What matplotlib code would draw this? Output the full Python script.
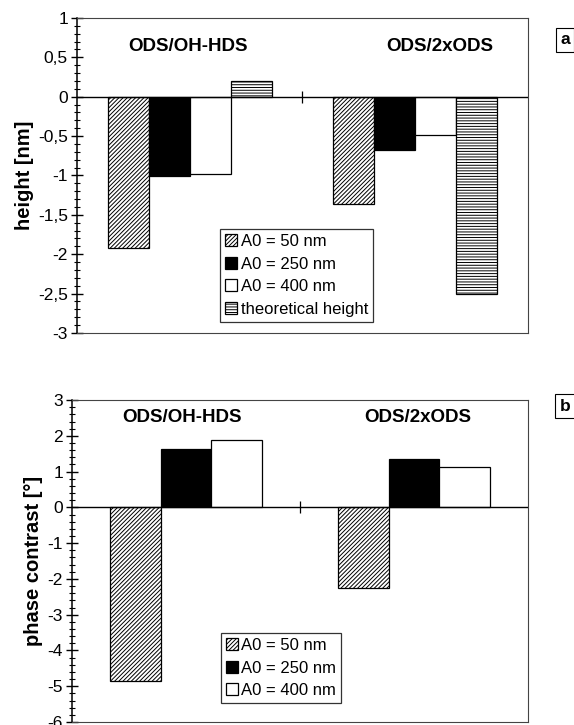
import numpy as np
import matplotlib
matplotlib.use("Agg")
import matplotlib.pyplot as plt
from matplotlib.ticker import MultipleLocator, FuncFormatter
from matplotlib.patches import Patch

plt.rcParams['font.family'] = ['Liberation Sans', 'DejaVu Sans']
plt.rcParams['hatch.linewidth'] = 0.7

groups = ["ODS/OH-HDS", "ODS/2xODS"]
series_a = ["A0 = 50 nm", "A0 = 250 nm", "A0 = 400 nm", "theoretical height"]
height_vals = [
    [-1.92, -1.36],   # A0 = 50 nm
    [-1.01, -0.68],   # A0 = 250 nm
    [-0.98, -0.49],   # A0 = 400 nm
    [0.20, -2.50],    # theoretical height
]
series_b = ["A0 = 50 nm", "A0 = 250 nm", "A0 = 400 nm"]
phase_vals = [
    [-4.84, -2.25],
    [1.63, 1.36],
    [1.89, 1.12],
]

styles = [
    dict(facecolor="white", edgecolor="black", hatch="////////"),
    dict(facecolor="black", edgecolor="black"),
    dict(facecolor="white", edgecolor="black"),
    dict(facecolor="white", edgecolor="black", hatch="------"),
]

comma = FuncFormatter(lambda v, p: ("%g" % v).replace(".", ","))


def draw(ax, vals, labels, ylim, major, minor, ylabel, fmt, leg_anchor, title_pos):
    n = len(vals)
    w = 1.0 / (n + 1.5)
    x = np.arange(len(groups))
    for i, v in enumerate(vals):
        off = (i - (n - 1) / 2) * w
        ax.bar(x + off, v, w, linewidth=0.9, **styles[i])
    ax.axhline(0, color="black", lw=1.0, zorder=3)
    ax.plot([0.5], [0], marker="|", color="black", markersize=9, mew=0.9, zorder=4)
    ax.set_xlim(-0.5, 1.5)
    ax.set_ylim(*ylim)
    ax.set_xticks([])
    ax.yaxis.set_major_locator(MultipleLocator(major))
    ax.yaxis.set_minor_locator(MultipleLocator(minor))
    ax.yaxis.set_major_formatter(fmt)
    ax.tick_params(axis="y", which="major", direction="inout", length=9, width=1, labelsize=12.5, pad=2)
    ax.tick_params(axis="y", which="minor", direction="inout", length=5, width=0.8)
    for s in ["top", "right", "bottom"]:
        ax.spines[s].set_color("#444444")
        ax.spines[s].set_linewidth(0.8)
    ax.spines["left"].set_linewidth(1.1)
    ax.set_ylabel(ylabel, fontsize=14.5, fontweight="bold", labelpad=3)
    for g, (tx, ty) in zip(groups, title_pos):
        ax.text(tx, ty, g, transform=ax.transAxes, ha="center", va="center",
                fontsize=13.5, fontweight="bold")
    handles = [Patch(linewidth=0.9, **styles[i]) for i in range(n)]
    leg = ax.legend(handles, labels, loc="lower left", bbox_to_anchor=leg_anchor,
                    fontsize=12, frameon=True, fancybox=False, edgecolor="black",
                    handlelength=0.75, handleheight=0.75, handletextpad=0.2,
                    labelspacing=0.45, borderpad=0.3, borderaxespad=0)
    leg.get_frame().set_linewidth(0.9)


fig = plt.figure(figsize=(5.74, 7.25), dpi=100)
ax1 = fig.add_axes([0.134, 0.5407, 0.786, 0.4345])
ax2 = fig.add_axes([0.1254, 0.0041, 0.7944, 0.4441])

draw(ax1, height_vals, series_a, (-3, 1), 0.5, 0.1, "height [nm]", comma,
     (0.317, 0.036), [(0.246, 0.911), (0.805, 0.911)])
draw(ax2, phase_vals, series_b, (-6, 3), 1, 0.2, "phase contrast [°]",
     FuncFormatter(lambda v, p: "%d" % v), (0.326, 0.059), [(0.241, 0.947), (0.759, 0.947)])

for lab, y in [("a", 1 - 40 / 725), ("b", 1 - 406 / 725)]:
    fig.text(565 / 574, y, lab, ha="center", va="center", fontsize=12.5, fontweight="bold",
             bbox=dict(boxstyle="square,pad=0.25", facecolor="white", edgecolor="black", linewidth=0.8))

fig.savefig("out.png", dpi=100)
